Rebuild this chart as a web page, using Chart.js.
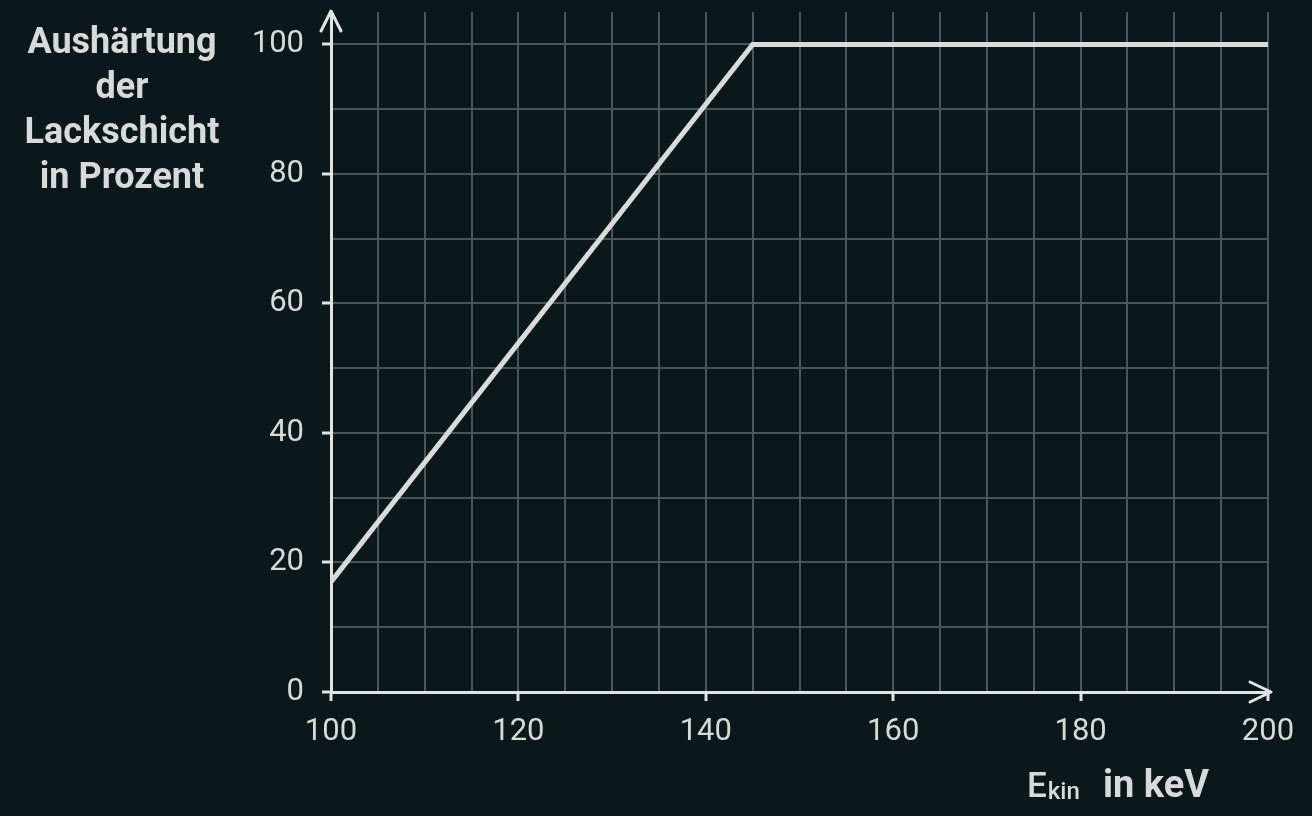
<!DOCTYPE html>
<html>
<head>
<meta charset="utf-8">
<script src="https://cdn.jsdelivr.net/npm/chart.js@4.4.1/dist/chart.umd.min.js"></script>
<style>
  html, body { margin:0; padding:0; background:#0a171b; }
  #wrap { width:1312px; height:816px; position:relative; }
</style>
</head>
<body>
<div id="wrap"><canvas id="c"></canvas></div>
<script>
const energie   = [100, 145, 200];
const aushaert  = [17, 100, 100];
const yTicks    = [0, 10, 20, 30, 40, 50, 60, 70, 80, 90, 100];
const yTitel    = ['Aushärtung', 'der', 'Lackschicht', 'in Prozent'];

const AXIS_COL = '#e2e4e4';
const GRID_COL = '#4b5658';
const TXT_COL  = '#d8dada';

const punkte = energie.map((x, i) => ({ x, y: aushaert[i] }));

const deko = {
    id: 'deko',
    afterDraw(chart) {
        const { ctx, chartArea: a } = chart;
        ctx.save();
        // Pfeile
        ctx.strokeStyle = AXIS_COL;
        ctx.lineWidth = 3;
        ctx.lineCap = 'round';
        ctx.lineJoin = 'round';
        ctx.beginPath();
        ctx.moveTo(a.left - 10, a.top + 19);
        ctx.lineTo(a.left, a.top - 1);
        ctx.lineTo(a.left + 10, a.top + 19);
        ctx.stroke();
        ctx.beginPath();
        ctx.moveTo(a.right - 18, a.bottom - 10);
        ctx.lineTo(a.right + 3, a.bottom);
        ctx.lineTo(a.right - 18, a.bottom + 10);
        ctx.stroke();

        // y-Titel
        ctx.fillStyle = TXT_COL;
        ctx.textAlign = 'center';
        ctx.textBaseline = 'alphabetic';
        ctx.font = 'bold 36px Roboto';
        yTitel.forEach((t, i) => ctx.fillText(t, 122, 53 + i * 45));

        // x-Titel
        ctx.textAlign = 'left';
        ctx.font = '500 35px Roboto';
        ctx.fillText('E', 1027, 797);
        let w = ctx.measureText('E').width;
        ctx.font = '500 24px Roboto';
        ctx.fillText('kin', 1027 + w + 1, 799);
        ctx.font = 'bold 38px Roboto';
        ctx.fillText('in keV', 1103, 797);
        ctx.restore();
    }
};

new Chart(document.getElementById('c'), {
    type: 'line',
    data: {
        datasets: [{
            data: punkte,
            borderColor: '#d9dada',
            borderWidth: 5,
            pointRadius: 0,
            tension: 0,
            borderCapStyle: 'butt',
            borderJoinStyle: 'miter',
        }]
    },
    options: {
        responsive: true,
        maintainAspectRatio: false,
        animation: false,
        layout: { padding: { left: 0, top: 12, right: 44, bottom: 0 } },
        plugins: { legend: { display: false }, tooltip: { enabled: false } },
        scales: {
            x: {
                type: 'linear',
                min: 100, max: 200,
                afterFit: s => { s.height = 124; s.paddingLeft = 0; s.paddingRight = 0; },
                ticks: {
                    stepSize: 5,
                    padding: 13,
                    color: TXT_COL,
                    font: { family: 'Roboto', size: 31 },
                    callback: v => v % 20 === 0 ? v : '',
                    maxRotation: 0,
                    autoSkip: false,
                },
                grid: {
                    color: GRID_COL,
                    lineWidth: 2,
                    tickLength: 9,
                    tickColor: c => c.tick && c.tick.value % 20 === 0 ? AXIS_COL : 'transparent',
                    tickWidth: 3,
                },
                border: { color: AXIS_COL, width: 3 },
            },
            y: {
                min: 0, max: 105,
                afterFit: s => { s.width = 331; s.paddingTop = 0; s.paddingBottom = 0; },
                afterBuildTicks: s => { s.ticks = yTicks.map(v => ({ value: v })); },
                ticks: {
                    padding: 18,
                    color: TXT_COL,
                    font: { family: 'Roboto', size: 31 },
                    callback: v => v % 20 === 0 ? v : '',
                    autoSkip: false,
                },
                grid: {
                    color: GRID_COL,
                    lineWidth: 2,
                    tickLength: 9,
                    tickColor: c => c.tick && c.tick.value % 20 === 0 ? AXIS_COL : 'transparent',
                    tickWidth: 3,
                },
                border: { color: AXIS_COL, width: 3 },
            }
        }
    },
    plugins: [deko]
});
</script>
</body>
</html>
